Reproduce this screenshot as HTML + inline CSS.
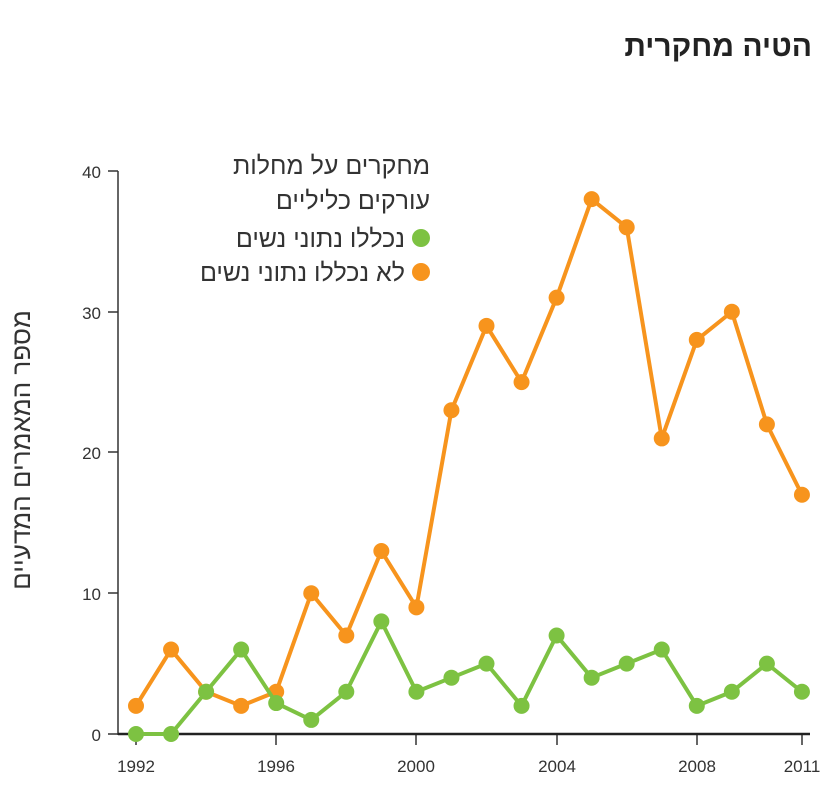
<!DOCTYPE html>
<html><head><meta charset="utf-8"><style>
body{margin:0;background:#fff;}
svg{display:block;font-family:"Liberation Sans","DejaVu Sans",sans-serif;}
</style></head><body>
<svg width="835" height="790" viewBox="0 0 835 790" xmlns="http://www.w3.org/2000/svg">
<text x="812" y="56" text-anchor="end" font-size="30" font-weight="bold" fill="#222">הטיה מחקרית</text>
<text transform="translate(30,450) rotate(-90)" text-anchor="middle" font-size="26" fill="#333">מספר המאמרים המדעיים</text>
<g font-size="25" fill="#333" text-anchor="end">
<text x="430" y="174">מחקרים על מחלות</text>
<text x="430" y="209">עורקים כליליים</text>
<text x="405" y="247">נכללו נתוני נשים</text>
<text x="405" y="281">לא נכללו נתוני נשים</text>
</g>
<circle cx="421" cy="238" r="9" fill="#7dc242"/>
<circle cx="421" cy="272" r="9" fill="#f7941d"/>
<g stroke="#333" stroke-width="1.5">
<line x1="118" y1="171" x2="118" y2="735"/>
<line x1="108" y1="171" x2="118" y2="171"/>
<line x1="108" y1="312" x2="118" y2="312"/>
<line x1="108" y1="452" x2="118" y2="452"/>
<line x1="108" y1="593" x2="118" y2="593"/>
<line x1="108" y1="734" x2="118" y2="734"/>
<line x1="136" y1="734" x2="136" y2="745"/>
<line x1="276" y1="734" x2="276" y2="745"/>
<line x1="416" y1="734" x2="416" y2="745"/>
<line x1="557" y1="734" x2="557" y2="745"/>
<line x1="697" y1="734" x2="697" y2="745"/>
<line x1="802" y1="734" x2="802" y2="745"/>
</g>
<line x1="118" y1="734" x2="810" y2="734" stroke="#222" stroke-width="2.5"/>
<g font-size="17" fill="#333" text-anchor="end">
<text x="101" y="178">40</text><text x="101" y="319">30</text><text x="101" y="459">20</text><text x="101" y="600">10</text><text x="101" y="741">0</text>
</g>
<g font-size="17" fill="#333" text-anchor="middle">
<text x="136" y="772">1992</text><text x="276" y="772">1996</text><text x="416" y="772">2000</text><text x="557" y="772">2004</text><text x="697" y="772">2008</text><text x="802" y="772">2011</text>
</g>
<script>
var ns="http://www.w3.org/2000/svg",svg=document.querySelector('svg');
var O=[2,6,3,2,3,10,7,13,9,23,29,25,31,38,36,21,28,30,22,17];
var G=[0,0,3,6,2.2,1,3,8,3,4,5,2,7,4,5,6,2,3,5,3];
function X(i){return 136+i*35.05;}function Y(v){return 734-v*14.075;}
function draw(d,c){var p="";d.forEach(function(v,i){p+=(i?"L":"M")+X(i)+","+Y(v);});
var l=document.createElementNS(ns,"path");l.setAttribute("d",p);l.setAttribute("fill","none");l.setAttribute("stroke",c);l.setAttribute("stroke-width","4");l.setAttribute("stroke-linejoin","round");svg.appendChild(l);
d.forEach(function(v,i){var e=document.createElementNS(ns,"circle");e.setAttribute("cx",X(i));e.setAttribute("cy",Y(v));e.setAttribute("r","8");e.setAttribute("fill",c);svg.appendChild(e);});}
draw(O,"#f7941d");draw(G,"#7dc242");
</script>
</svg>
</body></html>
